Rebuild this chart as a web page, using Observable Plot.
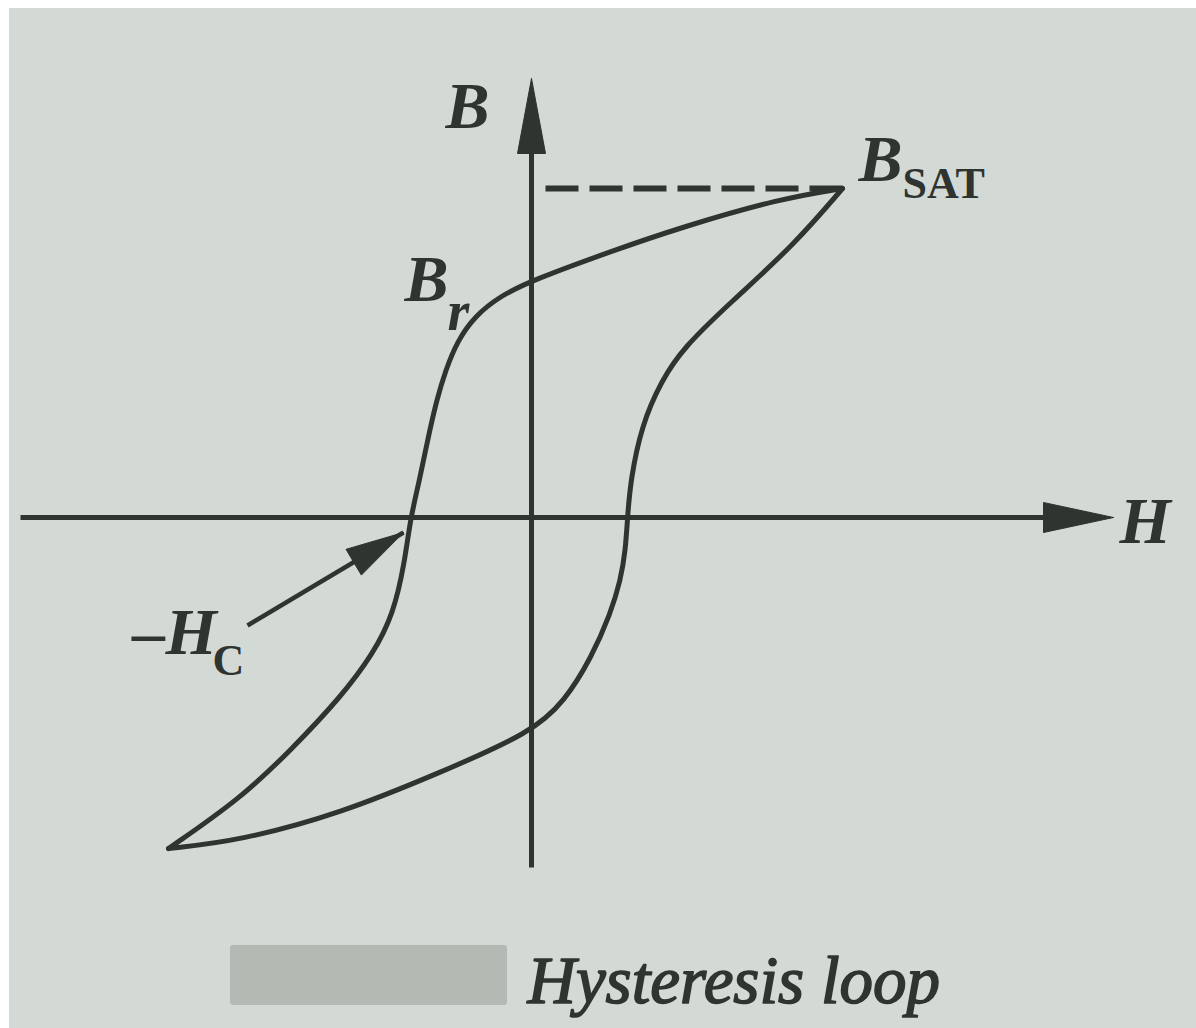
<!DOCTYPE html>
<html>
<head>
<meta charset="utf-8">
<script src="https://cdn.jsdelivr.net/npm/d3@7"></script>
<script src="https://cdn.jsdelivr.net/npm/@observablehq/plot@0.6"></script>
<style>
  html, body { margin: 0; padding: 0; background: #ffffff; }
  #wrap { position: relative; width: 1196px; height: 1028px; overflow: hidden; }
  #paper { position: absolute; left: 9px; top: 8px; right: 0; bottom: 0; background: #d3d9d5; }
  #redact { position: absolute; left: 230px; top: 945px; width: 277px; height: 60px; background: #b4b9b4; border-radius: 3px; }
  #chart { position: absolute; left: 0; top: 0; }
</style>
</head>
<body>
<div id="wrap">
  <div id="paper"></div>
  <div id="redact"></div>
  <div id="chart"></div>
</div>
<script>
// ---- data (H and B in arbitrary units) ----
// descending branch: from +B_SAT through B_r and -H_C to negative saturation
const descH = [3.11, 2.49, 1.49, 0.82, 0.00, -0.32, -0.56, -0.74, -0.86, -0.95, -1.04, -1.12, -1.21, -1.27, -1.38, -1.58, -1.91, -2.41, -2.91, -3.63];
const descB = [3.29, 3.19, 2.90, 2.67, 2.37, 2.21, 2.02, 1.77, 1.47, 1.17, 0.77, 0.37, 0.00, -0.46, -0.96, -1.36, -1.80, -2.33, -2.81, -3.31];
// ascending branch: from negative saturation through -B_r and +H_C back to B_SAT
const ascH = [-3.63, -2.91, -1.91, -0.91, 0.00, 0.33, 0.60, 0.79, 0.89, 0.94, 0.96, 0.99, 1.10, 1.30, 1.52, 1.99, 2.62, 3.11];
const ascB = [-3.31, -3.23, -2.96, -2.55, -2.15, -1.84, -1.40, -0.96, -0.63, -0.33, 0.00, 0.37, 0.92, 1.37, 1.70, 2.15, 2.72, 3.29];

const Bsat = [3.11, 3.29];       // saturation point (H, B)
const Br = 2.37;                 // remanence
const Hc = -1.21;                // coercive force (negative side)
const hAxisExtent = [-5.11, 5.82];
const bAxisExtent = [-3.50, 4.39];
const dashStartH = 0.14;
const hcPointerFrom = [-2.84, -1.08];
const hcPointerTo = [-1.28, -0.15];

const axisLabelB = "B";
const axisLabelH = "H";
const satMain = "B", satSub = "SAT";
const remMain = "B", remSub = "r";
const coerMain = "\u2013H", coerSub = "C";
const captionText = "Hysteresis loop";

// ---- build tables ----
const loop = [
  ...descH.map((h, i) => ({H: h, B: descB[i], branch: "descending"})),
  ...ascH.map((h, i) => ({H: h, B: ascB[i], branch: "ascending"}))
];

function triangle(tip, dir, len, half, id) {
  const n = Math.hypot(dir[0], dir[1]);
  const u = [dir[0] / n, dir[1] / n];
  const p = [-u[1], u[0]];
  const base = [tip[0] - u[0] * len, tip[1] - u[1] * len];
  return [
    {H: tip[0], B: tip[1], id},
    {H: base[0] + p[0] * half, B: base[1] + p[1] * half, id},
    {H: base[0] - p[0] * half, B: base[1] - p[1] * half, id},
    {H: tip[0], B: tip[1], id}
  ];
}
const heads = [
  ...triangle([hAxisExtent[1], 0], [1, 0], 0.70, 0.15, "h"),
  ...triangle([0, bAxisExtent[1]], [0, 1], 0.75, 0.14, "b"),
  ...triangle(hcPointerTo, [hcPointerTo[0] - hcPointerFrom[0], hcPointerTo[1] - hcPointerFrom[1]], 0.58, 0.15, "hc")
];

const axes = [
  {x1: hAxisExtent[0], y1: 0, x2: hAxisExtent[1] - 0.6, y2: 0},
  {x1: 0, y1: bAxisExtent[0], x2: 0, y2: bAxisExtent[1] - 0.6}
];

const ink = "#2f3430";
const serif = "Liberation Serif";

const txt = (datum, text, o) => Plot.text([datum], {
  x: "x", y: "y", text: () => text,
  textAnchor: "start", lineAnchor: "bottom",
  fontFamily: serif, fill: ink, ...o
});

const chart = Plot.plot({
  width: 1196,
  height: 1028,
  margin: 0,
  x: {domain: [-5.31, 6.65], axis: null},
  y: {domain: [-5.11, 5.17], axis: null},
  style: {background: "transparent", overflow: "visible"},
  marks: [
    // axes
    Plot.link(axes, {x1: "x1", y1: "y1", x2: "x2", y2: "y2", stroke: ink, strokeWidth: 5}),
    // dashed saturation line
    Plot.link([{x1: dashStartH, y1: Bsat[1], x2: Bsat[0], y2: Bsat[1]}], {
      x1: "x1", y1: "y1", x2: "x2", y2: "y2", stroke: ink, strokeWidth: 6, strokeDasharray: "33,11"
    }),
    // hysteresis loop
    Plot.line(loop, {x: "H", y: "B", z: "branch", curve: "basis", stroke: ink, strokeWidth: 5, strokeLinejoin: "round"}),
    // -Hc pointer
    Plot.link([{x1: hcPointerFrom[0], y1: hcPointerFrom[1], x2: hcPointerTo[0], y2: hcPointerTo[1]}], {
      x1: "x1", y1: "y1", x2: "x2", y2: "y2", stroke: ink, strokeWidth: 4.5
    }),
    // arrow heads
    Plot.line(heads, {x: "H", y: "B", z: "id", fill: ink, stroke: ink, strokeWidth: 1, curve: "linear"}),
    // labels
    txt({x: 0, y: bAxisExtent[1]}, axisLabelB, {dx: -86, dy: 49, fontSize: 66, fontStyle: "italic", fontWeight: "bold"}),
    txt({x: hAxisExtent[1], y: 0}, axisLabelH, {dx: 6, dy: 25, fontSize: 66, fontStyle: "italic", fontWeight: "bold"}),
    txt({x: Bsat[0], y: Bsat[1]}, satMain, {dx: 16, dy: -8, fontSize: 66, fontStyle: "italic", fontWeight: "bold"}),
    txt({x: Bsat[0], y: Bsat[1]}, satSub, {dx: 60, dy: 9, fontSize: 44, fontWeight: "bold"}),
    txt({x: 0, y: Br}, remMain, {dx: -127, dy: 20, fontSize: 66, fontStyle: "italic", fontWeight: "bold"}),
    txt({x: 0, y: Br}, remSub, {dx: -84, dy: 49, fontSize: 56, fontStyle: "italic", fontWeight: "bold"}),
    txt({x: Hc, y: 0}, coerMain, {dx: -278, dy: 136, fontSize: 66, fontStyle: "italic", fontWeight: "bold"}),
    txt({x: Hc, y: 0}, coerSub, {dx: -198, dy: 157, fontSize: 44, fontWeight: "bold"}),
    // caption
    Plot.text([captionText], {
      frameAnchor: "bottom-left", text: d => d, dx: 527, dy: -26,
      textAnchor: "start", lineAnchor: "bottom",
      fontFamily: serif, fontStyle: "italic", fontSize: 67,
      fill: ink, stroke: ink, strokeWidth: 1.6
    })
  ]
});

document.getElementById("chart").appendChild(chart);
</script>
</body>
</html>
